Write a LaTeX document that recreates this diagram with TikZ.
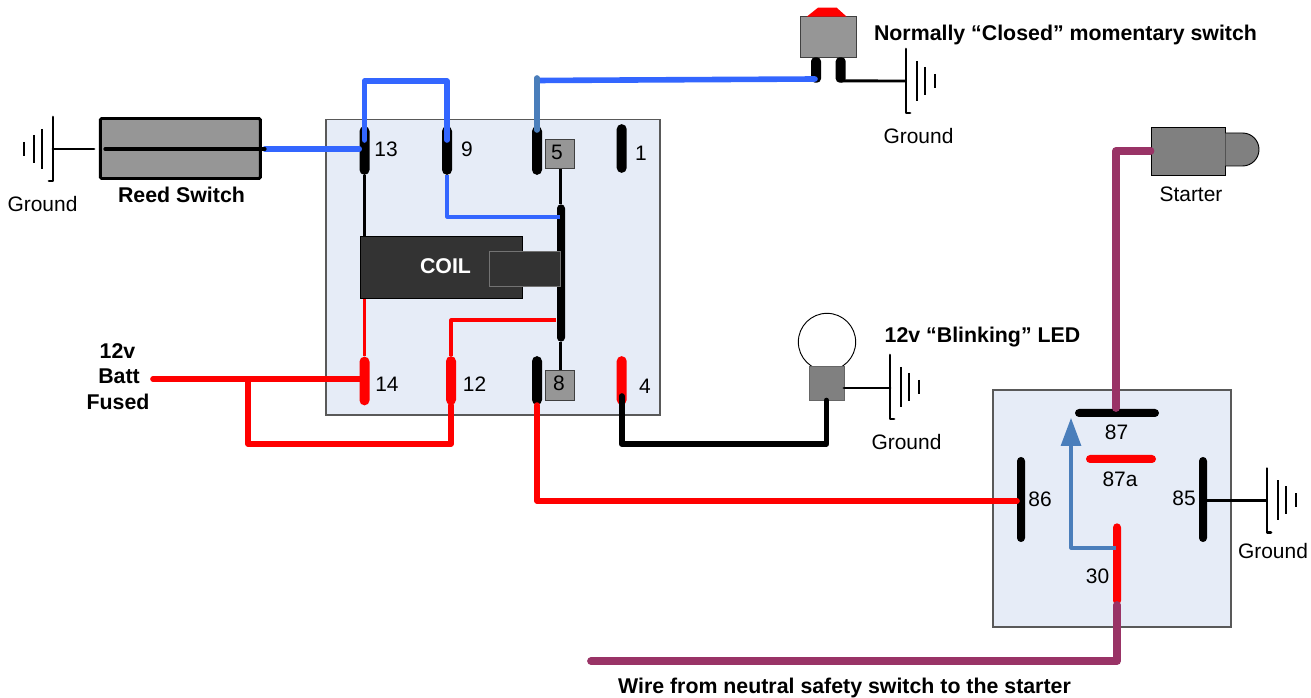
\documentclass[tikz,border=0pt]{standalone}
\usepackage{fontspec}
\setmainfont{Liberation Sans}
\usetikzlibrary{arrows.meta}
\definecolor{relayblue}{HTML}{E6ECF7}
\definecolor{wireblue}{HTML}{3366FF}
\definecolor{steelblue}{HTML}{4A7EBB}
\definecolor{wirepurple}{HTML}{993366}
\definecolor{darkcoil}{HTML}{333333}
\definecolor{partgray}{HTML}{969696}
\tikzset{
    lbl/.style={inner sep=0pt, font=\fontsize{15.7}{18}\selectfont},
    blbl/.style={inner sep=0pt, font=\fontsize{16}{18}\selectfont\bfseries},
    relaybox/.style={draw=black!65, line width=0.9pt, fill=relayblue, inner sep=0pt},
    vpin/.style={fill=black, inner sep=0pt, minimum width=7.5pt, minimum height=36.5pt, rounded corners=3.7pt},
    longpin/.style={fill=black, inner sep=0pt, minimum width=6pt, rounded corners=3pt},
    hpin/.style={fill=black, inner sep=0pt, minimum height=6pt, rounded corners=3pt},
    partbox/.style={draw=black!75, line width=0.7pt, fill=partgray, inner sep=0pt},
    thickwire/.style={line width=4.2pt, line cap=round, line join=round},
    purplewire/.style={line width=5.8pt, wirepurple, line cap=round, line join=round},
    groundsym/.pic={
        \coordinate (-lead) at (0,0);
        \draw[line width=2pt, line cap=round, line join=round] (4,32) -- (0,32) -- (0,-32);
        \draw[line width=2pt] (11,-20) -- (11,20);
        \draw[line width=2pt] (19,-14) -- (19,14);
        \draw[line width=2.2pt] (29,-7) -- (29,7);
    }
}
\begin{document}
\begin{tikzpicture}[x=0.75pt,y=-0.75pt]
    \useasboundingbox (0,0) rectangle (1311,698);
    % big relay
    \node[relaybox, minimum width=250.5pt, minimum height=221.6pt] (relayA) at (493,267.3) {};
    \node[vpin] (pin13) at (364.5,150.5) {};
    \node[vpin] (pin9) at (447,150.5) {};
    \node[vpin] (pinV) at (537,150.5) {};
    \node[vpin] (pin1) at (621.7,148.5) {};
    \node[vpin, fill=red] (pin14) at (364.5,381) {};
    \node[vpin, fill=red] (pin12) at (451,380.5) {};
    \node[vpin] (pinE) at (537,380.5) {};
    \node[vpin, fill=red] (pin4) at (621.7,380.5) {};
    \node[partbox, minimum width=21.8pt, minimum height=22pt] (box5) at (560.3,154) {};
    \node[partbox, minimum width=21.8pt, minimum height=22pt] (box8) at (560.3,385.5) {};
    \node[lbl] (lbl5) at (557,152) {5};
    \node[lbl] (lbl8) at (559,383.5) {8};
    \node[longpin, minimum height=103pt] (contact) at (561,273) {};
    \draw[line width=2pt] (box5.south) -- (box5.south |- contact.north);
    \draw[line width=2pt] (box8.north) -- (box8.north |- contact.south);
    % coil
    \node[draw=black, line width=0.7pt, fill=darkcoil, inner sep=0pt, minimum width=121.5pt, minimum height=47pt] (coil) at (441,267.5) {};
    \node[draw=black!55, line width=0.8pt, fill=darkcoil, inner sep=0pt, minimum width=53.8pt, minimum height=26.8pt] (core) at (525,269) {};
    \node[blbl, text=white] (coillbl) at (445.5,266) {COIL};
    \draw[line width=2pt] (pin13.south) -- (pin13.south |- coil.north);
    \draw[line width=2pt, red] (pin14.north) -- (pin14.north |- coil.south);
    % pin labels
    \node[lbl] (lbl13) at (386,149.5) {13};
    \node[lbl] (lbl9) at (467,149.5) {9};
    \node[lbl] (lbl1) at (641,153) {1};
    \node[lbl] (lbl14) at (387,384) {14};
    \node[lbl] (lbl12) at (474.5,384) {12};
    \node[lbl] (lbl4) at (645,386) {4};
    % reed switch
    \node[draw=black, line width=2.2pt, rounded corners=1pt, fill=partgray, inner sep=0pt, minimum width=120pt, minimum height=45pt] (reed) at (180.3,148.5) {};
    \coordinate (reedL) at (105,149);
    \coordinate (reedR) at (265,149);
    \draw[thickwire, wireblue] (reedR) -- (pin13.west |- reedR);
    \draw[line width=2.4pt, line cap=round] (reedL) -- (reedR);
    \node[blbl] (reedlbl) at (181.5,195) {Reed Switch};
    \pic[xscale=-1] (gndreed) at (53,149) {groundsym};
    \coordinate (reedG) at (94,149);
    \draw[line width=2.2pt, line cap=round] (gndreed-lead) -- (reedG);
    \node[lbl] (gndlblA) at (42.5,204) {Ground};
    % blue links
    \coordinate (jump13) at (364.5,140);
    \coordinate (jump9) at (447,140);
    \coordinate (jumptop) at (400,81);
    \draw[thickwire, wireblue] (jump13) -- (jump13 |- jumptop) -- (jump9 |- jumptop) -- (jump9);
    \coordinate (armblue) at (560,217);
    \draw[line width=2.3pt, wireblue, line join=round] (pin9.south) |- (armblue);
    \coordinate (redarm) at (556,320);
    \draw[line width=2.3pt, red, line join=round] (pin12.north) |- (redarm);
    % momentary switch
    \node[partbox, minimum width=42pt, minimum height=31pt] (momsw) at (828,37.3) {};
    \fill[red] (806.7,16.7) -- (818,7.7) -- (836.7,7.7) -- (846.7,16.7) -- cycle;
    \node[fill=black, inner sep=0pt, minimum width=7.5pt, minimum height=19pt, rounded corners=3pt] (swpinA) at (816,70) {};
    \node[fill=black, inner sep=0pt, minimum width=7.5pt, minimum height=19pt, rounded corners=3pt] (swpinB) at (840.7,70) {};
    \coordinate (swin) at (815,79);
    \coordinate (pin5top) at (537,80.5);
    \draw[thickwire, wireblue] (pin5top) -- (swin);
    \coordinate (pin5low) at (537,130);
    \coordinate (pin5high) at (537,78);
    \draw[thickwire, steelblue] (pin5low) -- (pin5high);
    \pic (gndsw) at (906,81) {groundsym};
    \draw[line width=2.2pt] (swpinB.south) ++(0,-2) -- (gndsw-lead);
    \node[blbl] (swlbl) at (1065.5,35) {Normally “Closed” momentary switch};
    \node[lbl] (gndlblB) at (918.5,136) {Ground};
    % led
    \node[circle, draw=black, line width=0.7pt, fill=white, inner sep=0pt, minimum size=43pt] (ledbulb) at (827,342) {};
    \node[partbox, draw=black!60, fill=black!50, minimum width=26.2pt, minimum height=25.5pt] (ledbase) at (826.5,383) {};
    \pic (gndled) at (890,387) {groundsym};
    \coordinate (ledout) at (844,388);
    \draw[line width=2.2pt, line cap=round] (ledout) -- (gndled-lead |- ledout);
    \coordinate (pin4in) at (621.7,396);
    \coordinate (ledbus) at (700,444);
    \draw[thickwire] (pin4in) -- (pin4in |- ledbus) -- (ledbase.south |- ledbus) -- (ledbase.south);
    \node[blbl] (ledlbl) at (982.5,337) {12v “Blinking” LED};
    \node[lbl] (gndlblC) at (906.5,442) {Ground};
    % battery feed
    \node[blbl] (battA) at (117.5,351) {12v};
    \node[blbl] (battB) at (119,376) {Batt};
    \node[blbl] (battC) at (118,402) {Fused};
    \coordinate (battin) at (153,379);
    \draw[thickwire, red] (battin) -- (pin14.center |- battin);
    \coordinate (battfork) at (248,379);
    \coordinate (battbus) at (300,444);
    \draw[thickwire, red] (battfork) -- (battfork |- battbus) -- (pin12.south |- battbus) -- (pin12.south);
    % small relay
    \node[relaybox, minimum width=178.5pt, minimum height=177.8pt] (relayB) at (1112,508.5) {};
    \node[hpin, minimum width=63pt] (pin87) at (1117,413) {};
    \node[hpin, fill=red, minimum width=52.5pt] (pin87a) at (1121,459) {};
    \node[longpin, minimum height=63.8pt] (pin86) at (1021,499.5) {};
    \node[longpin, minimum height=63.8pt] (pin85) at (1203,499.5) {};
    \node[longpin, fill=red, minimum height=61pt] (pin30) at (1117,564) {};
    \node[lbl] (lbl87) at (1116.5,432) {87};
    \node[lbl] (lbl87a) at (1120,479) {87a};
    \node[lbl] (lbl86) at (1040,499) {86};
    \node[lbl] (lbl85) at (1184,498) {85};
    \node[lbl] (lbl30) at (1097.5,576) {30};
    % arrow in relay
    \coordinate (armtip) at (1071,418);
    \coordinate (armfoot) at (1116,548);
    \draw[line width=2.3pt, steelblue, line join=round, -{Triangle[length=21pt,width=15pt]}] (armfoot) -| (armtip);
    % purple wires
    \coordinate (neutralend) at (591,661);
    \coordinate (pin30low) at (1117,605);
    \draw[purplewire] (pin30low) |- (neutralend);
    \node[partbox, draw=black, fill=black!50, minimum width=55.5pt, minimum height=36pt] (startbody) at (1188,151) {};
    \filldraw[fill=black!50, draw=black, line width=0.7pt] (startbody.east |- 0,133) -- (1242.5,133) arc[start angle=-90, end angle=90, y radius=16.5, x radius=16.5] -- (startbody.east |- 0,166);
    \coordinate (pin87in) at (1116,408);
    \draw[purplewire] (pin87in) |- (startbody.west);
    \node[lbl] (startlbl) at (1191,194) {Starter};
    % wire to relay two
    \coordinate (pin86in) at (1017,501);
    \draw[thickwire, red] (pinE.south) |- (pin86in);
    % ground on 85
    \pic (gndrelay) at (1267,500.5) {groundsym};
    \draw[line width=2.2pt] (pin85.center |- gndrelay-lead) -- (gndrelay-lead);
    \node[lbl] (gndlblD) at (1273,551) {Ground};
    \node[blbl] (bottomlbl) at (844.5,688) {Wire from neutral safety switch to the starter};
\end{tikzpicture}
\end{document}
